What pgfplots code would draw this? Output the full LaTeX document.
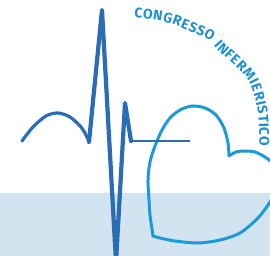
\documentclass[border=0pt]{standalone}
\usepackage{pgfplots}
\pgfplotsset{compat=1.18}
\usepackage{fontspec}
\setmainfont{Fira Sans}[BoldFont={Fira Sans Bold}]
\usetikzlibrary{decorations.text}
\definecolor{band}{HTML}{D3E4F1}
\definecolor{ecg}{HTML}{2A6DB5}
\definecolor{heart}{HTML}{1C9AD6}
\definecolor{txt}{HTML}{1F8FD0}
\begin{document}
\begin{tikzpicture}
\begin{axis}[
  width=270pt, height=256pt, scale only axis,
  xmin=0, xmax=270, ymin=0, ymax=256, y dir=reverse,
  hide axis, clip=true,
]
% light band
\addplot[fill=band, draw=none] coordinates {(-5,193) (275,193) (275,262) (-5,262) (-5,193)};
% heart: left lobe down to bottom-left corner
\addplot[heart, line width=3pt, smooth, line cap=round] coordinates {
 (229,156) (228,143) (224,128) (216,115) (205,108) (192,106) (180,110)
 (170,118) (162,130) (155,146) (150,162) (148,180) (149,200) (150,215) (153,236)};
% heart: bottom, right side and right lobe
\addplot[heart, line width=3pt, smooth, line cap=round] coordinates {
 (153,236) (160,238) (175,241) (198,243) (220,240) (240,233) (258,218) (270,202)
 (279,186) (282,175) (279,168) (273,163) (265,157) (255,152) (245,151) (236,152) (229,156)};
% ECG flat line
\addplot[ecg, line width=1.6pt] coordinates {(130,141) (190,141)};
% ECG P-wave arc
\addplot[ecg, line width=3.2pt, smooth, line cap=round] coordinates {
 (22,141) (33,127) (46,116) (58,113) (70,117) (81,127) (86,135) (89,142)};
% ECG QRS complex
\addplot[ecg, line width=4.2pt, line join=round, line cap=round] coordinates {
 (89,142) (102,10) (116,262) (125,103) (131,141)};
% curved title text
\addplot[draw=none, smooth, postaction={decorate, decoration={text along path,
   text align=fit to path,
   text={|\fontsize{14}{15}\selectfont\bfseries\color{txt}|CONGRESSO INFERMIERISTICO}}}]
 coordinates {(134,18) (167,22.5) (207,39) (216.5,49) (245,76) (254,95) (258.5,116.5) (259.5,146)};
\end{axis}
\pgfresetboundingbox
\useasboundingbox (current axis.south west) rectangle (current axis.north east);
\end{tikzpicture}
\end{document}
